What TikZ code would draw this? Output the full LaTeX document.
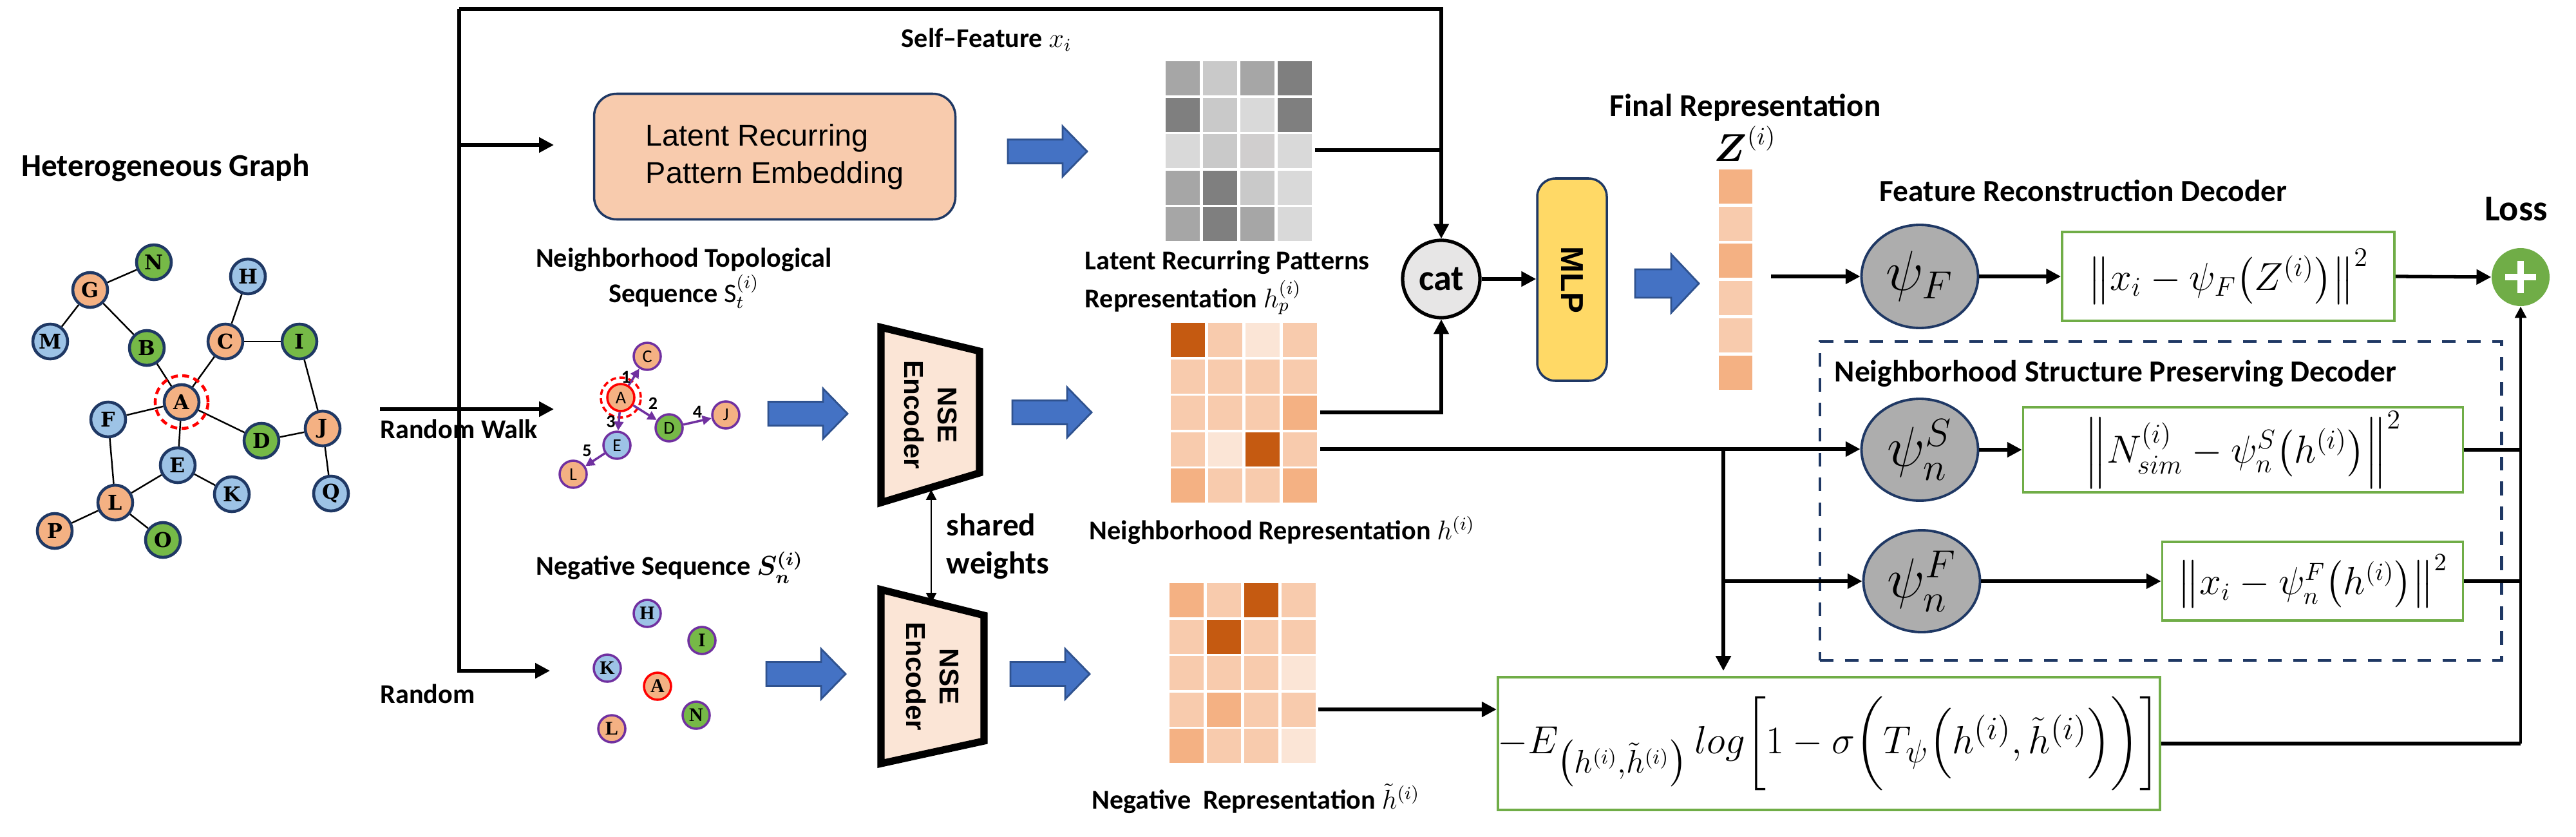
\documentclass[tikz,border=0pt]{standalone}
\usepackage{amsmath}
\usepackage{fontspec}
\setmainfont{Carlito}
\newfontfamily\arialf{Liberation Sans}
\newfontfamily\dejaserif{DejaVu Serif}
\newfontfamily\timesf{Liberation Serif}
\usetikzlibrary{arrows.meta,shapes.geometric,positioning}
\definecolor{navy}{HTML}{1F3864}
\definecolor{gorg}{HTML}{F4B183}
\definecolor{ggrn}{HTML}{76B947}
\definecolor{gblu}{HTML}{9DC3E6}
\definecolor{purp}{HTML}{7030A0}
\definecolor{pk1}{HTML}{FBE5D6}
\definecolor{pk2}{HTML}{F8CBAD}
\definecolor{pk3}{HTML}{F4B183}
\definecolor{pk4}{HTML}{C55A11}
\definecolor{g1}{HTML}{D9D9D9}
\definecolor{g2}{HTML}{C9C9C9}
\definecolor{g3}{HTML}{A6A6A6}
\definecolor{g4}{HTML}{7F7F7F}
\definecolor{g5}{HTML}{D0CECE}
\definecolor{barr}{HTML}{4472C4}
\definecolor{barrd}{HTML}{2F528F}
\definecolor{mlpy}{HTML}{FFD966}
\definecolor{catg}{HTML}{E7E6E6}
\definecolor{psig}{HTML}{ADADAD}
\definecolor{gbox}{HTML}{70AD47}
\tikzset{
  blk/.pic={\draw[draw=barrd,fill=barr,line width=0.8pt](0,-0.185)--(0.85,-0.185)--(0.85,-0.39)--(1.23,0)--(0.85,0.39)--(0.85,0.185)--(0,0.185)--cycle;},
  blkz/.pic={\draw[draw=barrd,fill=barr,line width=0.8pt](0,-0.22)--(0.56,-0.22)--(0.56,-0.455)--(0.99,0)--(0.56,0.455)--(0.56,0.22)--(0,0.22)--cycle;}
}
\begin{document}
\begin{tikzpicture}[
  >={Triangle[length=6.5pt,width=6.5pt]},
  ln/.style={line width=1.5pt},
  lbl/.style={font=\bfseries\fontsize{12}{15.5}\selectfont,inner sep=0pt},
  rlbl/.style={font=\bfseries\fontsize{13.5}{16}\selectfont,inner sep=0pt},
  gnode/.style={circle,draw=navy,line width=1.3pt,minimum size=0.54cm,inner sep=0pt,font=\dejaserif\bfseries\fontsize{9}{9}\selectfont},
  snode/.style={circle,draw=purp,line width=1pt,minimum size=0.42cm,inner sep=0pt,font=\fontsize{8}{8}\selectfont},
  tnode/.style={snode,font=\timesf\bfseries\fontsize{8.5}{8.5}\selectfont},
  parr/.style={draw=purp,line width=1pt,-{Triangle[length=4pt,width=4pt]}},
  num/.style={font=\bfseries\fontsize{8}{8}\selectfont,inner sep=1pt},
  dec/.style={ellipse,draw=navy,fill=psig,line width=1.1pt,minimum width=1.81cm,minimum height=1.6cm,inner sep=0pt,font=\fontsize{26}{26}\selectfont},
  fbox/.style={draw=gbox,line width=1.1pt,inner sep=0pt},
  enc/.style={line width=3.2pt,fill=pk1,line join=miter}
]
\useasboundingbox (0,0) rectangle (40,-12.99);
\node[font=\bfseries\fontsize{14}{14}\selectfont] (ttl) at (2.57,-2.60) {Heterogeneous Graph};
\foreach \nm/\px/\py/\cl in {N/2.39/4.07/ggrn,G/1.40/4.50/gorg,M/0.78/5.30/gblu,H/3.85/4.29/gblu,B/2.28/5.40/ggrn,C/3.50/5.30/gorg,I/4.65/5.30/ggrn,A/2.82/6.24/gorg,F/1.68/6.51/gblu,D/4.06/6.84/ggrn,J/5.01/6.65/gorg,E/2.76/7.22/gblu,K/3.60/7.67/gblu,Q/5.14/7.66/gblu,L/1.79/7.80/gorg,P/0.85/8.24/gorg,O/2.53/8.38/ggrn}
  \node[gnode,fill=\cl] (\nm) at (\px,-\py) {\nm};
\foreach \u/\v in {G/N,G/M,G/B,B/A,C/A,C/H,C/I,I/J,J/D,J/Q,A/D,A/F,A/E,F/L,E/L,E/K,L/P,L/O}
  \draw[line width=0.7pt] (\u)--(\v);
\node[circle,draw=red,dashed,dash pattern=on 3pt off 2pt,line width=1.3pt,minimum size=0.82cm] (Aring) at (A) {};
% left connectors
\coordinate (tl) at (7.13,-0.14);
\coordinate (rnd) at (8.54,-10.41);
\coordinate (lr0) at (7.13,-2.25);
\coordinate (lr1) at (8.60,-2.25);
\coordinate (rw0) at (5.90,-6.35);
\coordinate (rw1) at (8.60,-6.35);
\draw[ln,->] (tl) |- (rnd);
\draw[ln,->] (lr0) -- (lr1);
\draw[ln,->] (rw0) -- (rw1);
\node[lbl,anchor=west] (lrw) at (5.90,-6.66) {Random Walk};
\node[lbl,anchor=west] (lrnd) at (5.90,-10.77) {Random};
\node[draw=navy,fill=pk2,rounded corners=0.35cm,line width=1pt,minimum width=5.61cm,minimum height=1.95cm,align=left,font=\arialf\fontsize{13.3}{16.5}\selectfont] (lrpe) at (12.03,-2.43) {Latent Recurring\\Pattern Embedding};
\node[lbl] (lsf) at (15.32,-0.62) {Self--Feature $x_i$};
\node[lbl,align=center] (lnts) at (10.62,-4.32) {Neighborhood Topological\\Sequence $\mathrm{S}_t^{(i)}$};
% walk sequence
\foreach \nm/\px/\py/\cl in {C/10.05/5.53/gorg,D/10.39/6.64/ggrn,J/11.27/6.44/gorg,E/9.58/6.91/gblu,L/8.90/7.36/gorg}
  \node[snode,fill=\cl] (s\nm) at (\px,-\py) {\nm};
\node[snode,draw=red,fill=gorg] (sA) at (9.64,-6.17) {A};
\node[circle,draw=red,dashed,dash pattern=on 2.5pt off 1.5pt,line width=1pt,minimum size=0.62cm] (sring) at (sA) {};
\draw[parr] (sA) -- (sC) node[num,midway,left] (n1) {1};
\draw[parr] (sA) -- (sD) node[num,midway,above right] (n2) {2};
\draw[parr] (sA) -- (sE) node[num,midway,left] (n3) {3};
\draw[parr] (sD) -- (sJ) node[num,midway,above] (n4) {4};
\draw[parr] (sE) -- (sL) node[num,midway,above left] (n5) {5};
% negative sequence
\node[lbl] (lngs) at (10.40,-8.81) {Negative Sequence $\boldsymbol{S_n^{(i)}}$};
\foreach \nm/\px/\py/\cl in {H/10.05/9.52/gblu,I/10.90/9.94/ggrn,K/9.43/10.37/gblu,N/10.81/11.10/ggrn,L/9.50/11.31/gorg}
  \node[tnode,fill=\cl] (n\nm) at (\px,-\py) {\nm};
\node[tnode,draw=red,fill=gorg] (nA) at (10.21,-10.65) {A};
% encoders
\draw[enc] (13.68,-5.08) -- (15.21,-5.45) -- (15.21,-7.34) -- (13.68,-7.80) -- cycle;
\draw[enc] (13.68,-9.15) -- (15.28,-9.55) -- (15.28,-11.50) -- (13.68,-11.85) -- cycle;
\node[rotate=-90,align=center,font=\arialf\bfseries\fontsize{12}{15}\selectfont] (enc1) at (14.45,-6.44) {NSE\\Encoder};
\node[rotate=-90,align=center,font=\arialf\bfseries\fontsize{12}{15}\selectfont] (enc2) at (14.48,-10.50) {NSE\\Encoder};
\coordinate (e1b) at (14.46,-7.60);
\coordinate (e2t) at (14.46,-9.36);
\draw[line width=0.8pt,{Triangle[length=4.5pt,width=4.5pt]}-{Triangle[length=4.5pt,width=4.5pt]}] (e1b) -- (e2t);
\node[font=\bfseries\fontsize{14}{17}\selectfont,align=left,anchor=west,inner sep=0pt] (lsw) at (14.69,-8.48) {shared\\weights};
% block arrows
\pic at (15.65,-2.35) {blk};
\pic at (11.93,-6.42) {blk};
\pic at (15.72,-6.40) {blk};
\pic at (11.90,-10.46) {blk};
\pic at (15.69,-10.46) {blk};
\pic at (25.39,-4.40) {blkz};
% latent recurring patterns
\foreach \r/\cols in {1/{g3,g2,g3,g4},2/{g4,g2,g1,g4},3/{g1,g2,g5,g1},4/{g3,g4,g2,g1},5/{g3,g4,g3,g1}}
  \foreach \c [count=\k] in \cols
    \fill[\c] ({18.10+(\k-1)*0.58},{-0.95-(\r-1)*0.565}) rectangle ++(0.53,-0.53);
\node[lbl,align=left,anchor=west,font=\bfseries\fontsize{12}{17}\selectfont] (llrp) at (16.84,-4.38) {Latent Recurring Patterns\\Representation $h_p^{(i)}$};
% neighborhood representation
\foreach \r/\cols in {1/{pk4,pk2,pk1,pk2},2/{pk2,pk2,pk2,pk2},3/{pk2,pk2,pk2,pk3},4/{pk2,pk1,pk4,pk2},5/{pk3,pk2,pk2,pk3}}
  \foreach \c [count=\k] in \cols
    \fill[\c] ({18.18+(\k-1)*0.58},{-5.01-(\r-1)*0.565}) rectangle ++(0.53,-0.53);
\node[lbl] (lnbr) at (19.91,-8.23) {Neighborhood Representation $h^{(i)}$};
% negative representation
\foreach \r/\cols in {1/{pk3,pk2,pk4,pk2},2/{pk2,pk4,pk2,pk2},3/{pk2,pk2,pk2,pk1},4/{pk2,pk3,pk2,pk2},5/{pk3,pk2,pk2,pk1}}
  \foreach \c [count=\k] in \cols
    \fill[\c] ({18.16+(\k-1)*0.58},{-9.05-(\r-1)*0.565}) rectangle ++(0.53,-0.53);
\node[lbl] (lneg) at (19.50,-12.40) {Negative\ \ Representation $\tilde{h}^{(i)}$};
\coordinate (lrpout) at (20.42,-2.33);
\coordinate (nbout1) at (20.50,-6.40);
\coordinate (nbout2) at (20.50,-6.97);
\coordinate (ngout) at (20.47,-11.01);
% cat and mlp
\node[circle,draw,fill=catg,line width=1.5pt,minimum size=1.2cm,inner sep=0pt,font=\bfseries\fontsize{16}{16}\selectfont] (cat) at (22.38,-4.33) {cat};
\draw[ln,->] (tl) -| (cat.north);
\draw[ln] (lrpout) -- (lrpout -| cat.north);
\draw[ln,->] (nbout1) -| (cat.south);
\node[draw=navy,fill=mlpy,rounded corners=0.28cm,line width=1pt,minimum width=1.08cm,minimum height=3.14cm,font=\arialf\bfseries\fontsize{14}{14}\selectfont] (mlp) at (24.41,-4.34) {\rotatebox{-90}{MLP}};
\draw[ln,->] (cat.east) -- (cat.east -| mlp.west);
% final representation
\foreach \c [count=\k] in {pk3,pk2,pk3,pk2,pk2,pk3}
  \fill[\c] (26.69,{-2.63-(\k-1)*0.577}) rectangle ++(0.52,-0.53);
\node[rlbl,font=\bfseries\fontsize{14}{14}\selectfont] (lfin) at (27.10,-1.67) {Final Representation};
\node[font=\fontsize{16}{16}\selectfont] (lz) at (27.10,-2.23) {$\boldsymbol{Z}^{(i)}$};
\coordinate (zout) at (27.50,-4.29);
% decoders
\node[rlbl] (lfrd) at (32.35,-2.96) {Feature Reconstruction Decoder};
\node[dec] (psiF) at (29.81,-4.29) {$\psi_F$};
\node[fbox,minimum width=5.16cm,minimum height=1.38cm,font=\fontsize{18}{18}\selectfont] (boxF) at (34.60,-4.29) {$\left\| x_i - \psi_F\!\left(Z^{(i)}\right)\right\|^2$};
\node[circle,fill=gbox,minimum size=0.9cm,inner sep=0pt] (loss) at (39.14,-4.30) {};
\draw[white,line width=3pt] ([xshift=-0.24cm]loss.center) -- ([xshift=0.24cm]loss.center);
\draw[white,line width=3pt] ([yshift=-0.25cm]loss.center) -- ([yshift=0.25cm]loss.center);
\node[font=\bfseries\fontsize{16}{16}\selectfont] (lloss) at (39.07,-3.24) {Loss};
\draw[ln,->] (zout) -- (psiF.west);
\draw[ln,->] (psiF.east) -- (boxF.west);
\draw[ln,->] (boxF.east) -- (loss.west);
\node[draw=navy,line width=1.4pt,dash pattern=on 6pt off 5pt,minimum width=10.58cm,minimum height=4.95cm] (nspd) at (33.55,-7.775) {};
\node[rlbl,anchor=west] (lnspd) at (28.48,-5.80) {Neighborhood Structure Preserving Decoder};
\node[dec,minimum height=1.58cm] (psinS) at (29.81,-6.98) {$\psi_n^S$};
\node[fbox,minimum width=6.83cm,minimum height=1.32cm,font=\fontsize{17}{17}\selectfont] (boxS) at (34.83,-6.98) {$\left\| N_{sim}^{(i)} - \psi_n^S\!\left(h^{(i)}\right)\right\|^2$};
\node[dec,minimum height=1.58cm] (psinF) at (29.84,-9.02) {$\psi_n^F$};
\node[fbox,minimum width=4.67cm,minimum height=1.22cm,font=\fontsize{16}{16}\selectfont] (boxnF) at (35.91,-9.02) {$\left\| x_i - \psi_n^F\!\left(h^{(i)}\right)\right\|^2$};
\node[fbox,minimum width=10.09cm,minimum height=2.06cm,font=\fontsize{19}{19}\selectfont] (bot) at (28.40,-11.54) {$-E_{\big(h^{(i)},\tilde{h}^{(i)}\big)}\,log\bigg[1-\sigma\bigg(T_\psi\Big(h^{(i)},\tilde{h}^{(i)}\Big)\bigg)\bigg]$};
\coordinate (jn) at (26.76,-6.97);
\draw[ln,->] (nbout2) -- (nbout2 -| psinS.west);
\draw[ln,->] (jn) -- ([yshift=0.08cm]jn |- bot.north);
\draw[ln,->] (jn |- psinF.west) -- (psinF.west);
\draw[ln,->] (psinS.east) -- (boxS.west);
\draw[ln,->] (psinF.east) -- (boxnF.west);
\draw[ln,->] (ngout) -- (ngout -| bot.west);
\draw[ln] (boxS.east) -- (boxS.east -| loss.south);
\draw[ln] (boxnF.east) -- (boxnF.east -| loss.south);
\draw[ln] (bot.east) -- (bot.east -| loss.south);
\draw[line width=1.1pt,-{Triangle[length=5pt,width=5pt]}] (bot.east -| loss.south) -- (loss.south);
\end{tikzpicture}
\end{document}
